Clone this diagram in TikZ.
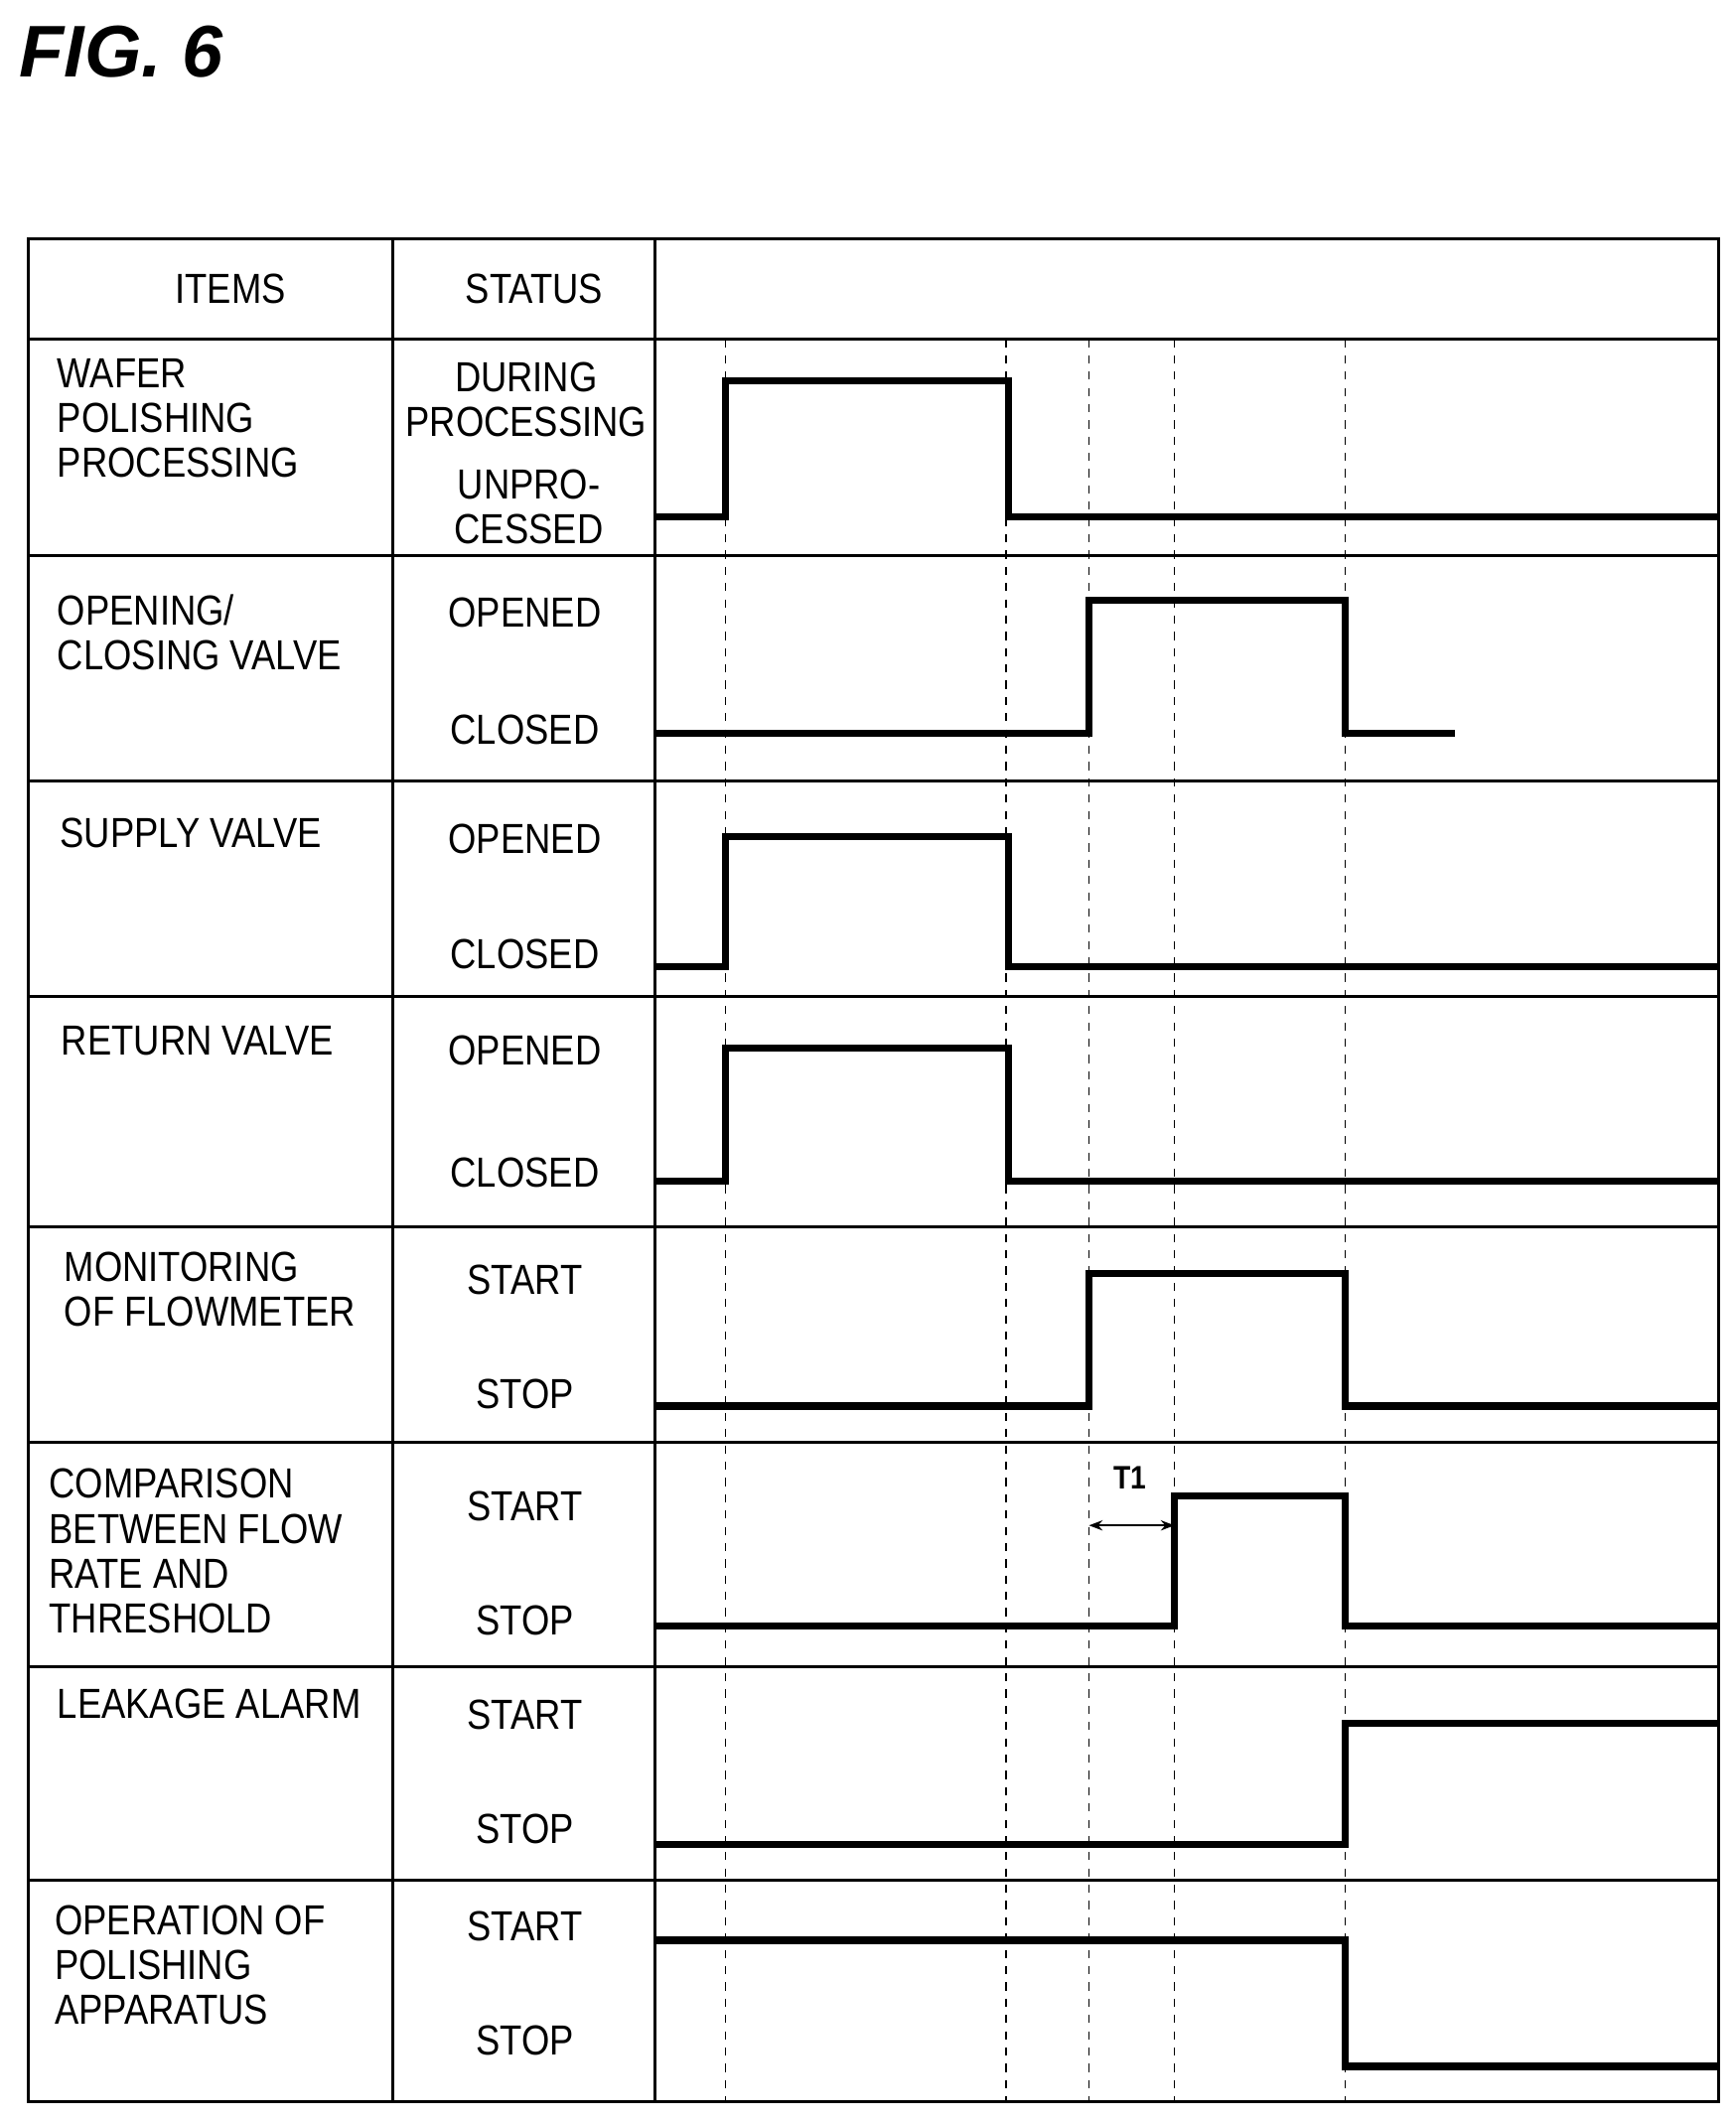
\documentclass[tikz,border=0pt]{standalone}
\usepackage{fontspec}
\setmainfont[FakeStretch=0.86]{Liberation Sans}
\newfontfamily\figfont{Liberation Sans}
\usetikzlibrary{arrows.meta}
\begin{document}
\begin{tikzpicture}[x=0.5pt,y=-0.5pt,
  grid/.style={line width=1.1pt},
  wave/.style={line width=2.6pt,line join=miter},
  guide/.style={line width=0.6pt,dash pattern=on 3pt off 3pt},
  item/.style={anchor=north west,align=left,inner sep=0pt,font=\fontsize{15.5}{16.5}\selectfont},
  stat/.style={anchor=center,align=center,inner sep=0pt,font=\fontsize{15.5}{16.5}\selectfont}]
\useasboundingbox (0,0) rectangle (1280,1565);
\node[anchor=west,inner sep=0pt,font=\figfont\fontsize{27}{29}\selectfont\bfseries\itshape] (fig) at (14,38) {FIG. 6};
% grid
\draw[grid] (21,176) rectangle (1267,1550);
\draw[grid] (290,176) -- (290,1550) (483,176) -- (483,1550);
\foreach \y in {250,410,576,735,905,1064,1229,1387} \draw[grid] (21,\y) -- (1267,\y);
\foreach \x in {535,742,803,866,992} \draw[guide] (\x,250) -- (\x,1550);
% headers
\node[stat] (hitems) at (170,213) {ITEMS};
\node[stat] (hstatus) at (394,213) {STATUS};
% items
\node[item] (i1) at (42,264) {WAFER\\POLISHING\\PROCESSING};
\node[item] (i2) at (42,438) {OPENING/\\CLOSING VALVE};
\node[item] (i3) at (44,603) {SUPPLY VALVE};
\node[item] (i4) at (45,756) {RETURN VALVE};
\node[item] (i5) at (47,923) {MONITORING\\OF FLOWMETER};
\node[item] (i6) at (36,1083) {COMPARISON\\BETWEEN FLOW\\RATE AND\\THRESHOLD};
\node[item] (i7) at (42,1245) {LEAKAGE ALARM};
\node[item] (i8) at (40,1405) {OPERATION OF\\POLISHING\\APPARATUS};
% statuses
\node[stat] (s1a) at (388,295) {DURING\\PROCESSING};
\node[stat] (s1b) at (390,374) {UNPRO-\\CESSED};
\node[stat] (s2a) at (387,452) {OPENED};
\node[stat] (s2b) at (387,538) {CLOSED};
\node[stat] (s3a) at (387,619) {OPENED};
\node[stat] (s3b) at (387,704) {CLOSED};
\node[stat] (s4a) at (387,775) {OPENED};
\node[stat] (s4b) at (387,865) {CLOSED};
\node[stat] (s5a) at (387,944) {START};
\node[stat] (s5b) at (387,1028) {STOP};
\node[stat] (s6a) at (387,1111) {START};
\node[stat] (s6b) at (387,1195) {STOP};
\node[stat] (s7a) at (387,1265) {START};
\node[stat] (s7b) at (387,1349) {STOP};
\node[stat] (s8a) at (387,1421) {START};
\node[stat] (s8b) at (387,1505) {STOP};
% waveforms
\draw[wave] (483,381) -- (535,381) -- (535,281) -- (744,281) -- (744,381) -- (1267,381);
\draw[wave] (483,541) -- (803,541) -- (803,443) -- (992,443) -- (992,541) -- (1073,541);
\draw[wave] (483,713) -- (535,713) -- (535,617) -- (744,617) -- (744,713) -- (1267,713);
\draw[wave] (483,871) -- (535,871) -- (535,773) -- (744,773) -- (744,871) -- (1267,871);
\draw[wave] (483,1037) -- (803,1037) -- (803,939) -- (992,939) -- (992,1037) -- (1267,1037);
\draw[wave] (483,1199) -- (866,1199) -- (866,1103) -- (992,1103) -- (992,1199) -- (1267,1199);
\draw[wave] (483,1360) -- (992,1360) -- (992,1271) -- (1267,1271);
\draw[wave] (483,1431) -- (992,1431) -- (992,1524) -- (1267,1524);
% T1
\coordinate (ta) at (803,1125);
\coordinate (tb) at (866,1125);
\draw[line width=0.8pt,{Stealth[length=5pt]}-{Stealth[length=5pt]}] (ta) -- (tb);
\node[stat,font=\fontsize{12}{13}\selectfont\bfseries] (t1) at (833,1090) {T1};
\end{tikzpicture}
\end{document}
